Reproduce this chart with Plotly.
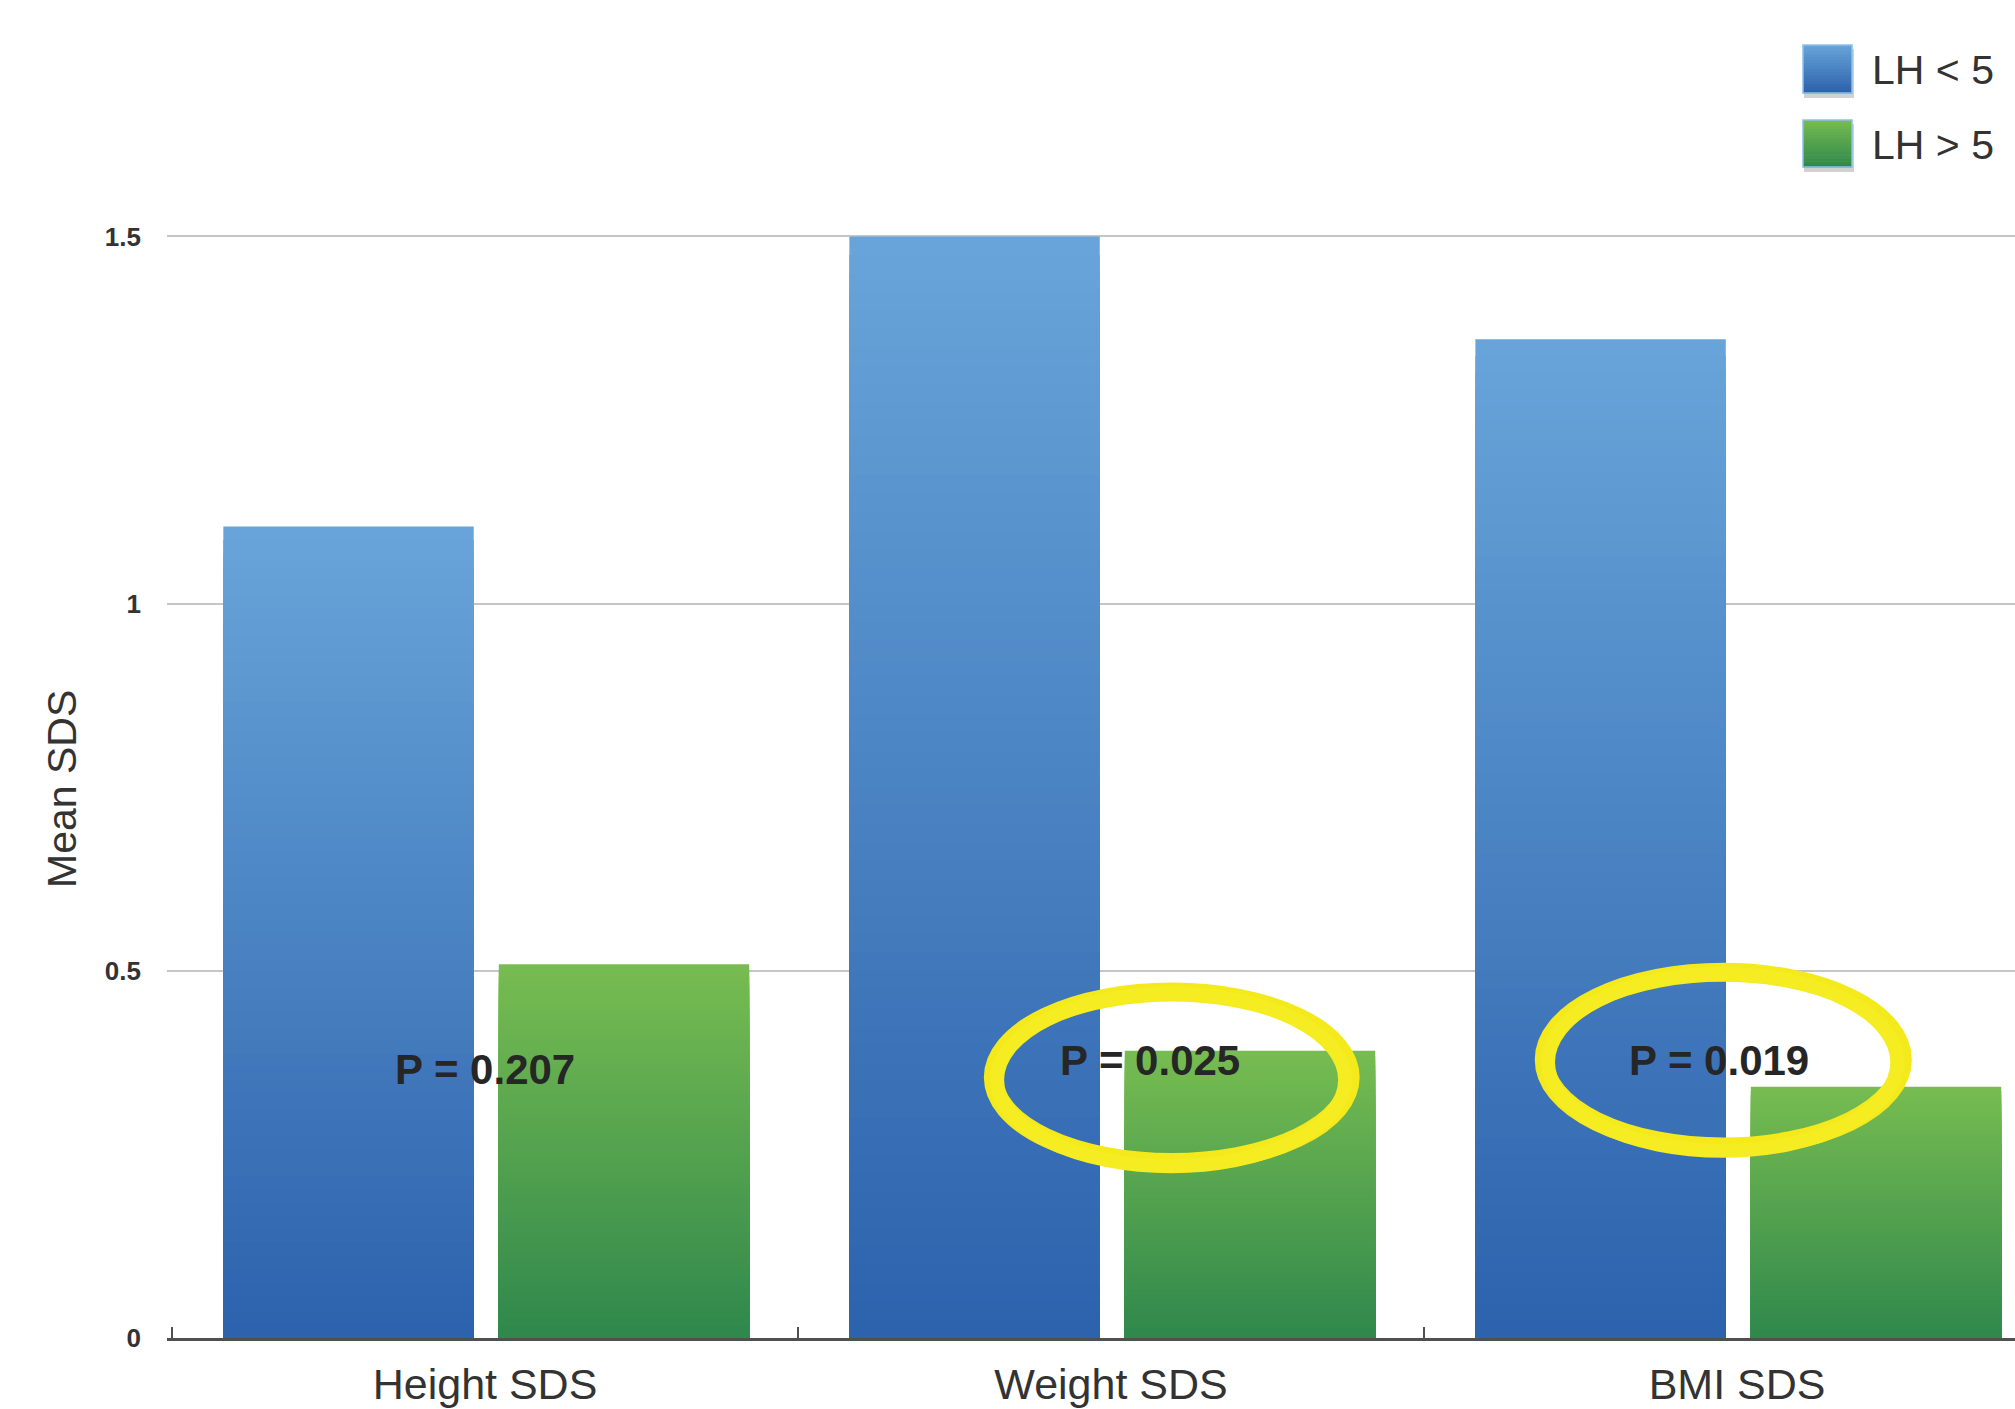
import plotly.graph_objects as go

# ---- data -------------------------------------------------------------
categories = ["Height SDS", "Weight SDS", "BMI SDS"]
series_names = ["LH < 5", "LH > 5"]
lh_below_5 = [1.105, 1.50, 1.36]
lh_above_5 = [0.509, 0.391, 0.342]
p_values = ["P = 0.207", "P = 0.025", "P = 0.019"]
highlighted = [False, True, True]
y_tick_values = [0, 0.5, 1, 1.5]
y_tick_labels = ["0", "0.5", "1", "1.5"]

# ---- styling ----------------------------------------------------------
W, H = 2015, 1409
M_L, M_R, M_T, M_B = 167, 0, 163, 71
Y_MAX = 1.6
X_RANGE = [-0.508, 2.444]
FONT = "Liberation Sans, Arial, Helvetica, sans-serif"
TEXT = "#333333"

# bottom colour, top colour of each series' vertical gradient
GRADIENTS = {
    "LH < 5": ("#2c61ac", "#68a4d9"),
    "LH > 5": ("#2e874c", "#77bc51"),
}
BAR_OFFSET = {"LH < 5": -0.418, "LH > 5": 0.022}
BAR_WIDTH = 0.40
LAYERS = 60


def hex_to_rgb(h):
    h = h.lstrip("#")
    return tuple(int(h[i:i + 2], 16) for i in (0, 2, 4))


def mix(c0, c1, t):
    a, b = hex_to_rgb(c0), hex_to_rgb(c1)
    return "rgb({},{},{})".format(*[round(a[i] + (b[i] - a[i]) * t) for i in range(3)])


fig = go.Figure()

# Each bar is painted as nested bars from 0 to a decreasing fraction of its
# value, so every layer adds a band of the gradient without seams.
for name, values in zip(series_names, [lh_below_5, lh_above_5]):
    bottom, top = GRADIENTS[name]
    xs, ys, cols = [], [], []
    for k in range(LAYERS):
        frac = (LAYERS - k) / LAYERS
        for cat, v in zip(categories, values):
            xs.append(cat)
            ys.append(v * frac)
            cols.append(mix(bottom, top, frac))
    fig.add_trace(go.Bar(
        x=xs, y=ys, name=name,
        marker=dict(color=cols, line=dict(width=0)),
        offset=BAR_OFFSET[name], width=BAR_WIDTH,
        showlegend=False, hoverinfo="skip",
    ))

# P-value labels
p_dx = [0.0, 0.062, -0.029]
p_y = [0.366, 0.378, 0.378]
for i, txt in enumerate(p_values):
    fig.add_annotation(
        x=i + p_dx[i], y=p_y[i], xref="x", yref="y", text=txt,
        showarrow=False, xanchor="center", yanchor="middle",
        font=dict(family=FONT, size=42, color="#262626", weight="bold"),
    )

# hand-drawn style yellow rings around the significant results
ring_specs = [None, (1.097, 0.355, 0.285, 0.116), (1.978, 0.379, 0.286, 0.119)]
for i, flag in enumerate(highlighted):
    if not flag:
        continue
    cx, cy, rx, ry = ring_specs[i]
    fig.add_shape(type="circle", xref="x", yref="y",
                  x0=cx - rx, x1=cx + rx, y0=cy - ry, y1=cy + ry,
                  line=dict(color="#f3e91b", width=19), layer="above")
    fig.add_shape(type="circle", xref="x", yref="y",
                  x0=cx - rx + 0.006, x1=cx + rx - 0.008, y0=cy - ry - 0.005, y1=cy + ry - 0.002,
                  line=dict(color="#f5ec22", width=14), layer="above")


# ---- legend (drawn with shapes so the swatches can be large) ----------
def px_x(px):
    return (px - M_L) / (W - M_L - M_R)


def px_y(py):
    return (H - M_B - py) / (H - M_T - M_B)


legend_rows = [(45, 93), (120, 167)]
SW_X0, SW_X1 = 1803, 1852
for name, (top_px, bot_px) in zip(series_names, legend_rows):
    bottom, top = GRADIENTS[name]
    # soft drop shadow
    fig.add_shape(type="rect", xref="paper", yref="paper",
                  x0=px_x(SW_X0 + 1), x1=px_x(SW_X1 + 2),
                  y0=px_y(bot_px + 5), y1=px_y(top_px + 4),
                  fillcolor="rgba(0,0,0,0.18)", line=dict(width=0), layer="above")
    steps = 16
    h = (bot_px - top_px) / steps
    for s in range(steps):
        y0 = top_px + s * h
        fig.add_shape(type="rect", xref="paper", yref="paper",
                      x0=px_x(SW_X0), x1=px_x(SW_X1),
                      y0=px_y(y0 + h + 0.6), y1=px_y(y0),
                      fillcolor=mix(bottom, top, 1 - (s + 0.5) / steps),
                      line=dict(width=0), layer="above")
    fig.add_shape(type="rect", xref="paper", yref="paper",
                  x0=px_x(SW_X0), x1=px_x(SW_X1), y0=px_y(bot_px), y1=px_y(top_px),
                  fillcolor="rgba(0,0,0,0)", line=dict(color="#8fc0ea", width=1.5),
                  layer="above")
    fig.add_annotation(
        x=px_x(1870), y=px_y((top_px + bot_px) / 2 + 1), xref="paper", yref="paper",
        text=name, showarrow=False, xanchor="left", yanchor="middle",
        font=dict(family=FONT, size=41, color=TEXT),
    )

# y-axis title
fig.add_annotation(
    x=px_x(62), y=px_y(789), xref="paper", yref="paper", text="Mean SDS",
    textangle=-90, showarrow=False, xanchor="center", yanchor="middle",
    font=dict(family=FONT, size=41, color=TEXT),
)

fig.update_layout(
    width=W, height=H,
    margin=dict(l=M_L, r=M_R, t=M_T, b=M_B, pad=0),
    paper_bgcolor="white", plot_bgcolor="white",
    barmode="overlay",
    showlegend=False,
    font=dict(family=FONT, color=TEXT),
    xaxis=dict(
        type="category", categoryorder="array", categoryarray=categories,
        range=X_RANGE, automargin=False,
        showline=True, linecolor="#505050", linewidth=2.5,
        ticks="inside", tickson="boundaries", ticklen=11, tickwidth=2, tickcolor="#505050",
        tickfont=dict(family=FONT, size=43, color=TEXT),
        ticklabelstandoff=7,
        showgrid=False, zeroline=False,
    ),
    yaxis=dict(
        range=[0, Y_MAX], automargin=False,
        tickvals=y_tick_values, ticktext=y_tick_labels,
        ticks="", ticklabelstandoff=25,
        tickfont=dict(family=FONT, size=26, color="#333333", weight="bold"),
        showgrid=True, gridcolor="#c6c6c6", gridwidth=2,
        showline=False, zeroline=False,
    ),
)

fig.write_html("out.html")
